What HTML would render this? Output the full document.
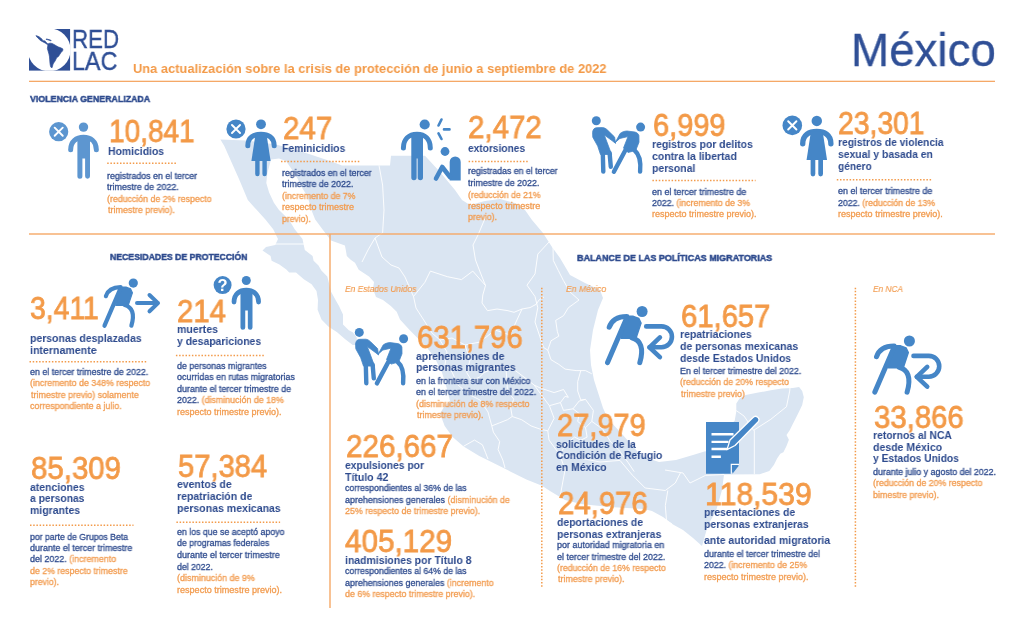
<!DOCTYPE html>
<html><head><meta charset="utf-8"><style>
html,body{margin:0;padding:0;background:#fff;}
body{width:1024px;height:637px;position:relative;overflow:hidden;font-family:"Liberation Sans",sans-serif;}
svg{position:absolute;left:0;top:0;}
.t{position:absolute;white-space:nowrap;transform-origin:0 0;will-change:transform;}
</style></head><body>
<svg width="1024" height="637" viewBox="0 0 1024 637">
<path d="M220.4,139.4 L246,140.5 L276,144.5 L300,151 L330,161 L342,165.4 L390,165.4 L391,155.8 L425,155.8 L440,172 L455,190 L462,200 L470,205 L485,201 L500,199 L515,203 L525,210 L532,220 L543,233 L552,247 L560,258 L570,275 L585,283 L600,290 L603,298 L598,310 L593,330 L590,350 L591,365 L594,380 L603,408 L608,419 L622,434 L637,451 L644,457 L659,462 L676,460 L693,455 L706,451 L722,432 L734.7,420.8 L736.3,411.4 L736.3,403.6 L739.4,398.8 L745.7,394.9 L758.3,392.6 L770.8,390.2 L781.8,388.6 L792.8,387.9 L799.1,387.1 L802.2,391 L803.8,397.3 L802.2,405.1 L799.1,411.4 L796,417.7 L792.8,424 L789.7,430.3 L786.5,435 L788.9,439.7 L786.5,446 L783.4,452.2 L780.3,453.8 L777.1,458.5 L774,464.8 L769.3,471.1 L759.8,474.2 L724,474.5 L722,490 L716,511 L708,525 L702,546 L693,538 L683,530 L673,524.5 L663,517 L652,511 L644,509 L610,507 L581,504 L565,500 L550,491 L542,485.8 L526.4,479.5 L510.7,471.7 L495,463.8 L479.3,456 L463.6,446.5 L452.6,437.1 L444.7,426.1 L440,413.6 L444,407 L450,400.7 L446.3,386.5 L442,372.4 L435,358.3 L426.5,347 L418,338.5 L409.6,330 L400,319.5 L396.7,311.7 L390.8,305.9 L383,300 L376,297 L373,289 L374,282 L369,276.6 L358.7,269.7 L355,262.7 L350.7,259.8 L346.8,255.9 L345.8,250 L344.9,245.5 L331,240.4 L323,230 L315.2,219.5 L311.3,209.8 L307.8,197.1 L302.1,187.7 L297.4,178.3 L292.7,170.7 L286,161 L279,158.5 L271,159.5 L267.3,173.6 L266.3,183 L269.1,192.4 L273.9,202.8 L279,210 L288.8,219.5 L294.7,229.3 L302.5,239 L304.8,250 L312.6,255.9 L313.6,260.7 L318.5,265.6 L321.4,270.5 L327.3,276.4 L331.2,292 L336,300.8 L339,305.9 L343,314.6 L343,324.4 L348.8,330.3 L352.7,332.2 L356.6,337.1 L357.5,345 L352.7,344.9 L344.9,339.1 L337.1,332.2 L328.3,326.4 L321.5,319.5 L317.6,309.8 L318,300 L316.5,291 L311.6,284.2 L303.8,279.3 L296,272.5 L289.2,272.5 L286.3,269.5 L279.4,264.6 L271.6,260.7 L270.6,255.9 L262.5,250.5 L266,247 L275.2,244.9 L278,239 L273.2,229.3 L265.4,219.5 L256.6,209.8 L247.8,200 L239,179 L229.2,157 L224.3,146 Z" fill="#dae5f2"/><polyline points="275,244 304,244" fill="none" stroke="#fff" stroke-width="0.9" stroke-linejoin="round"/><polyline points="379,165.4 382.6,185 384,210 382.6,232.8 375,238" fill="none" stroke="#fff" stroke-width="0.9" stroke-linejoin="round"/><polyline points="375,238 368,250 362,262" fill="none" stroke="#fff" stroke-width="0.9" stroke-linejoin="round"/><polyline points="375,238 382,257 391,265 399,268 405,277" fill="none" stroke="#fff" stroke-width="0.9" stroke-linejoin="round"/><polyline points="405,277 413.5,296.5 416,308 425,322 432,333 440,340" fill="none" stroke="#fff" stroke-width="0.9" stroke-linejoin="round"/><polyline points="413.5,296.5 424.8,282.4 430.4,271.1 447.4,276.7 461.5,279.6 472.8,271.1 485.5,285.5" fill="none" stroke="#fff" stroke-width="0.9" stroke-linejoin="round"/><polyline points="486,216 478,235 473,245 475.5,260 480.5,273 485.5,285.5" fill="none" stroke="#fff" stroke-width="0.9" stroke-linejoin="round"/><polyline points="485.5,285.5 482.8,295 482,303 487.5,310.7 497,309 508,310.7 514,312.3 522,309 530,307.6 536,304.4 539.3,299.7 544,297" fill="none" stroke="#fff" stroke-width="0.9" stroke-linejoin="round"/><polyline points="549,242 537.8,254.1 535,273.9 527,285.2 535,296.5 537.8,307.8 535,322" fill="none" stroke="#fff" stroke-width="0.9" stroke-linejoin="round"/><polyline points="553,246 553.3,260.4 558.3,270.5 563.4,280.5 570,292 579,300 568.3,307.8 563.5,315.7 555.7,320.4 557.3,331.4 558.8,336.1 551,340.8 547.8,350.2 551,359.7 558.8,364.4 565.1,369.1 576.1,370.6 585.5,370.6 591.8,373.8" fill="none" stroke="#fff" stroke-width="0.9" stroke-linejoin="round"/><polyline points="580.8,370.6 577.7,381.6 577.7,391 580.8,400 585.5,399.4" fill="none" stroke="#fff" stroke-width="0.9" stroke-linejoin="round"/><polyline points="440,340 452,338 465,345 480,342 495,330 510,335 522,309" fill="none" stroke="#fff" stroke-width="0.9" stroke-linejoin="round"/><polyline points="535,322 543.5,347.4 547.8,350.2" fill="none" stroke="#fff" stroke-width="0.9" stroke-linejoin="round"/><polyline points="440,340 447,352 445,365 452,372 458,385" fill="none" stroke="#fff" stroke-width="0.9" stroke-linejoin="round"/><polyline points="465,345 470,360 466.7,372.6 471.4,380.4 479.2,377.3 484,372.6 495,368 505.9,366.3 513.8,369.4 526.3,378.8 534.2,385.1 540,387.9 554.1,392.6 563.5,389.5 568.3,397.3" fill="none" stroke="#fff" stroke-width="0.9" stroke-linejoin="round"/><polyline points="491.8,425.9 499.7,422.8 507.5,419.7 512.2,416.5 521.6,419.7 531,425.9 540,429.1 547.8,430.8" fill="none" stroke="#fff" stroke-width="0.9" stroke-linejoin="round"/><polyline points="491.8,425.9 493.4,432.2 499.7,441.6 498.1,449.5 502.8,460 505,468" fill="none" stroke="#fff" stroke-width="0.9" stroke-linejoin="round"/><polyline points="458,385 470,395 480,400 488,412 491.8,425.9" fill="none" stroke="#fff" stroke-width="0.9" stroke-linejoin="round"/><polyline points="463.5,446.3 474.5,440.1 482.4,444.8 485.5,452.6 488,459" fill="none" stroke="#fff" stroke-width="0.9" stroke-linejoin="round"/><polyline points="512.2,416.5 510.6,407.1 513.8,399.2 507.5,391.4 505.9,366.3" fill="none" stroke="#fff" stroke-width="0.9" stroke-linejoin="round"/><polyline points="534.2,385.1 549.4,405.7 560.4,402.6 565.1,396.3 568.3,397.3" fill="none" stroke="#fff" stroke-width="0.9" stroke-linejoin="round"/><polyline points="549.4,405.7 554.1,418.3 547.8,430.8 549,440 560,455" fill="none" stroke="#fff" stroke-width="0.9" stroke-linejoin="round"/><polyline points="560.4,402.6 563.5,410.4 573,408.8 579.2,401 585.5,399.4" fill="none" stroke="#fff" stroke-width="0.9" stroke-linejoin="round"/><polyline points="573,408.8 579.2,413.5 577.7,421.4 585.5,427.7 591.8,421.4 593.4,410.4 585.5,399.4" fill="none" stroke="#fff" stroke-width="0.9" stroke-linejoin="round"/><polyline points="585.5,427.7 587.1,437.1 580.8,440.2 574.5,437.1 565,445 560,455 565,470 560,497" fill="none" stroke="#fff" stroke-width="0.9" stroke-linejoin="round"/><polyline points="591.8,421.4 602.8,429.2 610.6,441.8 618.5,449.7 627.9,462.2 634.2,471.6" fill="none" stroke="#fff" stroke-width="0.9" stroke-linejoin="round"/><polyline points="560,455 580,458 600,462 620,460.4" fill="none" stroke="#fff" stroke-width="0.9" stroke-linejoin="round"/><polyline points="620,460.4 632.6,475.4 645.2,488 665.3,490.5 675.3,483 680.4,472.9" fill="none" stroke="#fff" stroke-width="0.9" stroke-linejoin="round"/><polyline points="667.8,490.5 665.3,505.6 666.5,520.6 672,524" fill="none" stroke="#fff" stroke-width="0.9" stroke-linejoin="round"/><polyline points="665,470 683,473 690,483 705.5,475.4 724,474.5" fill="none" stroke="#fff" stroke-width="0.9" stroke-linejoin="round"/><polyline points="754.3,430.3 754.3,474.2" fill="none" stroke="#fff" stroke-width="0.9" stroke-linejoin="round"/><polyline points="736.3,410.6 744.1,416.1 753.6,430.3 770.8,419.3 786.5,406.7 789.7,391 790,387" fill="none" stroke="#fff" stroke-width="0.9" stroke-linejoin="round"/><polyline points="706,451 712,462 724,474.5" fill="none" stroke="#fff" stroke-width="0.9" stroke-linejoin="round"/><rect x="29" y="80.7" width="966" height="1.3" fill="#f5a867"/><rect x="29" y="233.3" width="966" height="1.4" fill="#f5a867"/><rect x="329.3" y="234" width="1.4" height="374" fill="#f5a867"/><line x1="541.8" y1="287.65" x2="541.8" y2="587.5" stroke="#f39b4b" stroke-width="1.5" stroke-dasharray="1.5 1.7"/><line x1="855.4" y1="287.65" x2="855.4" y2="587.5" stroke="#f39b4b" stroke-width="1.5" stroke-dasharray="1.5 1.7"/><clipPath id="sq"><rect x="29" y="29" width="41.3" height="41.8"/></clipPath><g clip-path="url(#sq)"><rect x="29" y="29" width="41.3" height="41.8" fill="#2f4f96"/><path d="M29,29 H49 V49.4 H29 Z" fill="#fff"/><circle cx="49.2" cy="49.9" r="21.45" fill="#fff"/></g><path d="M35.95,35.65 L37.30,36.02 L38.96,36.70 L40.69,37.91 L41.98,39.19 L42.73,40.47 L44.09,41.07 L44.99,40.77 L45.44,41.45 L46.35,42.43 L47.25,43.33 L48.00,44.09 L47.55,44.54 L46.50,43.94 L45.44,43.18 L44.09,42.43 L42.58,41.67 L40.92,40.77 L39.41,39.56 L38.06,38.21 L36.93,36.93 Z M48.00,44.09 L48.76,43.48 L50.27,43.18 L52.00,43.48 L54.03,44.46 L56.14,45.74 L58.40,46.95 L60.82,47.85 L62.93,48.98 L62.62,50.87 L60.82,52.75 L59.61,54.64 L58.40,56.52 L56.60,57.65 L55.84,59.53 L54.79,61.42 L53.58,63.08 L52.83,64.81 L52.38,66.69 L52.07,67.67 L50.87,67.15 L50.27,65.19 L49.96,62.93 L49.74,59.91 L49.51,56.90 L48.98,54.03 L48.16,51.24 L47.40,48.61 L47.70,46.20 Z M46.20,38.96 L47.85,39.26 L49.74,39.87 L51.24,40.47 L50.87,40.85 L49.36,40.32 L47.70,39.72 L46.20,39.41 Z" fill="#2f4f96" stroke="#2f4f96" stroke-width="0.7" stroke-linejoin="round"/><line x1="107.2" y1="163.3" x2="176.6" y2="163.3" stroke="#f39b4b" stroke-width="1.5" stroke-dasharray="1.5 1.7"/><line x1="281.0" y1="161.5" x2="360.3" y2="161.5" stroke="#f39b4b" stroke-width="1.5" stroke-dasharray="1.5 1.7"/><line x1="468.6" y1="161.4" x2="529.3" y2="161.4" stroke="#f39b4b" stroke-width="1.5" stroke-dasharray="1.5 1.7"/><line x1="652.4" y1="180.4" x2="755.6" y2="180.4" stroke="#f39b4b" stroke-width="1.5" stroke-dasharray="1.5 1.7"/><line x1="836.8" y1="179.8" x2="932.4" y2="179.8" stroke="#f39b4b" stroke-width="1.5" stroke-dasharray="1.5 1.7"/><line x1="29.5" y1="361.7" x2="146.3" y2="361.7" stroke="#f39b4b" stroke-width="1.5" stroke-dasharray="1.5 1.7"/><line x1="175.9" y1="355.4" x2="264.2" y2="355.4" stroke="#f39b4b" stroke-width="1.5" stroke-dasharray="1.5 1.7"/><line x1="30.0" y1="525.3" x2="133.5" y2="525.3" stroke="#f39b4b" stroke-width="1.5" stroke-dasharray="1.5 1.7"/><line x1="176.4" y1="522.2" x2="280.1" y2="522.2" stroke="#f39b4b" stroke-width="1.5" stroke-dasharray="1.5 1.7"/><circle cx="58.7" cy="131.7" r="9.6" fill="#5d96d0"/><path d="M54.668000000000006,127.66799999999999 L62.732,135.732 M62.732,127.66799999999999 L54.668000000000006,135.732" stroke="#fff" stroke-width="1.92" stroke-linecap="round"/><g transform="translate(83.5,127.1) scale(1.0)" fill="#5d96d0"><circle cx="0" cy="0" r="4.7"/><path d="M-12.85,22.6 C-12.85,14 -7,10.2 0,10.2 C7,10.2 12.85,14 12.85,22.6" fill="none" stroke="#5d96d0" stroke-width="5" stroke-linecap="round"/><path d="M-6.1,11 H6.5 V49.1 a2.45,2.45 0 0 1 -4.9,0 V31.3 H-1.1 V49.1 a2.5,2.5 0 0 1 -5,0 Z"/></g><circle cx="236" cy="129" r="9.6" fill="#4586c7"/><path d="M231.968,124.968 L240.032,133.032 M240.032,124.968 L231.968,133.032" stroke="#fff" stroke-width="1.92" stroke-linecap="round"/><g transform="translate(261,124.3) scale(1.0)" fill="#4586c7"><circle cx="0" cy="0" r="4.9"/><path d="M-13.2,21.4 C-13.2,13 -7,9.9 0,9.9 C7,9.9 13.2,13 13.2,21.4" fill="none" stroke="#4586c7" stroke-width="5" stroke-linecap="round"/><path d="M-5.5,10 H5.5 L9.6,36.6 H-9.6 Z"/><path d="M-5.8,36 H-1.4 V49.8 a2.2,2.2 0 0 1 -4.4,0 Z M1.4,36 H5.8 V49.8 a2.2,2.2 0 0 1 -4.4,0 Z"/></g><g fill="#4586c7"><circle cx="424.7" cy="124.5" r="5.1"/><path d="M403.4,148 C403.4,139 409,134.2 417,134.2 C425,134.2 430.3,139 430.3,148" fill="none" stroke="#4586c7" stroke-width="5" stroke-linecap="round"/><path d="M411.3,133 H423 V177.6 a2.65,2.65 0 0 1 -5.3,0 V158.4 H416.6 V177.6 a2.65,2.65 0 0 1 -5.3,0 Z"/><path d="M441.5,119.5 L438.5,125.5 M444,129.4 L449.5,129.4 M438.5,133.3 L441.5,139" stroke="#4586c7" stroke-width="2.6" stroke-linecap="round"/><circle cx="445" cy="151.5" r="4.4"/><path d="M449.7,180.5 V162 a5.5,5.5 0 0 1 11,0 V180.5 Z"/><path d="M436,178.5 L442.2,167 L450,177" fill="none" stroke="#4586c7" stroke-width="4.6" stroke-linecap="round" stroke-linejoin="round"/></g><g transform="translate(0,0)" fill="#4586c7" stroke="#4586c7" stroke-linecap="round" stroke-linejoin="round"><circle cx="596.3" cy="120.8" r="4.5" stroke="none"/><circle cx="640.6" cy="127.1" r="4.5" stroke="none"/><path d="M592.6,132 C593,129 594.5,127.8 597,127.7 L602.6,127.6 C604.5,127.8 606,128.6 607.5,130.1 L614.6,137 L615.6,143.4 L612,140.6 L604.3,135 L611.6,154.5 L600.5,154.5 L597.7,146.1 L592.9,137.4 Z" stroke-width="0.8"/><path d="M602.8,153 L603.3,171.6 M609.6,153 L610.8,166.8" fill="none" stroke-width="4.4"/><path d="M615.3,142.4 L620.1,133.5 C622,132 624,131.2 627,131 L634.8,132 C637,132.6 638.4,133.8 638.9,135.5 L639,142.2 L635.7,150.5 L628,152.5 L623.5,148 L628,136.6 L620.1,138.4 Z" stroke-width="0.8"/><path d="M625.5,150 L613.9,171.8 M634.5,150.2 Q641.6,156 640.1,171.6" fill="none" stroke-width="4.4"/></g><g transform="translate(-237,211.6)" fill="#4586c7" stroke="#4586c7" stroke-linecap="round" stroke-linejoin="round"><circle cx="596.3" cy="120.8" r="4.5" stroke="none"/><circle cx="640.6" cy="127.1" r="4.5" stroke="none"/><path d="M592.6,132 C593,129 594.5,127.8 597,127.7 L602.6,127.6 C604.5,127.8 606,128.6 607.5,130.1 L614.6,137 L615.6,143.4 L612,140.6 L604.3,135 L611.6,154.5 L600.5,154.5 L597.7,146.1 L592.9,137.4 Z" stroke-width="0.8"/><path d="M602.8,153 L603.3,171.6 M609.6,153 L610.8,166.8" fill="none" stroke-width="4.4"/><path d="M615.3,142.4 L620.1,133.5 C622,132 624,131.2 627,131 L634.8,132 C637,132.6 638.4,133.8 638.9,135.5 L639,142.2 L635.7,150.5 L628,152.5 L623.5,148 L628,136.6 L620.1,138.4 Z" stroke-width="0.8"/><path d="M625.5,150 L613.9,171.8 M634.5,150.2 Q641.6,156 640.1,171.6" fill="none" stroke-width="4.4"/></g><circle cx="792.3" cy="125.4" r="9.8" fill="#4586c7"/><path d="M788.184,121.284 L796.4159999999999,129.51600000000002 M796.4159999999999,121.284 L788.184,129.51600000000002" stroke="#fff" stroke-width="1.96" stroke-linecap="round"/><g transform="translate(816.8,120.9) scale(1.067)" fill="#4586c7"><circle cx="0" cy="0" r="4.9"/><path d="M-13.2,21.4 C-13.2,13 -7,9.9 0,9.9 C7,9.9 13.2,13 13.2,21.4" fill="none" stroke="#4586c7" stroke-width="5" stroke-linecap="round"/><path d="M-5.5,10 H5.5 L9.6,36.6 H-9.6 Z"/><path d="M-5.8,36 H-1.4 V49.8 a2.2,2.2 0 0 1 -4.4,0 Z M1.4,36 H5.8 V49.8 a2.2,2.2 0 0 1 -4.4,0 Z"/></g><g transform="translate(0,0) scale(1.0)" fill="#4586c7" stroke="#4586c7" stroke-linecap="round" stroke-linejoin="round"><circle cx="133.3" cy="283.1" r="4.6" stroke="none"/><path d="M105.9,296.2 C107.8,290.3 112.5,287.3 120.6,287.2" fill="none" stroke-width="4.2"/><path d="M119.5,287 L126,287.1 L130.6,288.9 L132.4,292.8 L128.2,305.4 L115.8,305.4 Z" stroke-width="1.2"/><path d="M120.2,289.2 L104.5,325.7 M124.8,305 C132,307 135,313.5 131.4,325.7" fill="none" stroke-width="4.2"/><path d="M137,303.1 L158,303.1 M149.5,295 L158,303.1 L149.5,311.3" fill="none" stroke-width="4"/></g><g transform="translate(482.14,-28.220000000000027) scale(1.2)" fill="#4586c7" stroke="#4586c7" stroke-linecap="round" stroke-linejoin="round"><circle cx="133.3" cy="283.1" r="4.6" stroke="none"/><path d="M105.9,296.2 C107.8,290.3 112.5,287.3 120.6,287.2" fill="none" stroke-width="4.2"/><path d="M119.5,287 L126,287.1 L130.6,288.9 L132.4,292.8 L128.2,305.4 L115.8,305.4 Z" stroke-width="1.2"/><path d="M120.2,289.2 L104.5,325.7 M124.8,305 C132,307 135,313.5 131.4,325.7" fill="none" stroke-width="4.2"/></g><g transform="translate(0.0,0.0)" fill="none" stroke="#4586c7" stroke-width="4.6" stroke-linecap="round" stroke-linejoin="round"><path d="M646.2,326.4 L661.5,326.4 A10.45,10.45 0 0 1 661.5,347.3 L649.5,347.3"/><path d="M659.9,337.4 L649.5,347.3 L659.9,357.1"/></g><g transform="translate(749.4399999999999,1.2799999999999727) scale(1.2)" fill="#4586c7" stroke="#4586c7" stroke-linecap="round" stroke-linejoin="round"><circle cx="133.3" cy="283.1" r="4.6" stroke="none"/><path d="M105.9,296.2 C107.8,290.3 112.5,287.3 120.6,287.2" fill="none" stroke-width="4.2"/><path d="M119.5,287 L126,287.1 L130.6,288.9 L132.4,292.8 L128.2,305.4 L115.8,305.4 Z" stroke-width="1.2"/><path d="M120.2,289.2 L104.5,325.7 M124.8,305 C132,307 135,313.5 131.4,325.7" fill="none" stroke-width="4.2"/></g><g transform="translate(267.29999999999995,29.5)" fill="none" stroke="#4586c7" stroke-width="4.6" stroke-linecap="round" stroke-linejoin="round"><path d="M646.2,326.4 L661.5,326.4 A10.45,10.45 0 0 1 661.5,347.3 L649.5,347.3"/><path d="M659.9,337.4 L649.5,347.3 L659.9,357.1"/></g><circle cx="222.6" cy="285.1" r="9" fill="#4586c7"/><g transform="translate(246.3,280.5) scale(0.955)" fill="#4586c7"><circle cx="0" cy="0" r="4.7"/><path d="M-12.85,22.6 C-12.85,14 -7,10.2 0,10.2 C7,10.2 12.85,14 12.85,22.6" fill="none" stroke="#4586c7" stroke-width="5" stroke-linecap="round"/><path d="M-6.1,11 H6.5 V49.1 a2.45,2.45 0 0 1 -4.9,0 V31.3 H-1.1 V49.1 a2.5,2.5 0 0 1 -5,0 Z"/></g><g><path d="M706,422.1 H739 V464.4 L731.3,473.7 H706 Z" fill="#4586c7"/><path d="M732.5,465.6 H739 L732.5,473.7 Z" fill="#4586c7"/><path d="M731.3,473.7 V464.4 H739" fill="none" stroke="#fff" stroke-width="1.2"/><path d="M711.5,434.2 H733.5 M711.5,441.9 H728.6 M711.5,449 H727 M711.5,456.7 H720.9" stroke="#fff" stroke-width="2.4"/><path d="M727,449.6 L730,440 L753,417.5 A3.3,3.3 0 0 1 758,422 L735,445.5 Z" fill="#4586c7" stroke="#fff" stroke-width="1.3" stroke-linejoin="round"/></g>
</svg>
<div class="t" style="left:72.16px;top:26.00px;font-size:26.7px;line-height:26.7px;color:#2f4f96;transform:scaleX(0.8364);-webkit-text-stroke:0.45px #2f4f96;">RED</div>
<div class="t" style="left:72.13px;top:48.00px;font-size:26.7px;line-height:26.7px;color:#2f4f96;transform:scaleX(0.8725);-webkit-text-stroke:0.45px #2f4f96;">LAC</div>
<div class="t" style="left:132.70px;top:62.00px;font-size:13.6px;line-height:13.6px;color:#f39a48;font-weight:700;transform:scaleX(0.9468);">Una actualización sobre la crisis de protección de junio a septiembre de 2022</div>
<div class="t" style="left:851.18px;top:26.00px;font-size:47px;line-height:47px;color:#2f4f96;transform:scaleX(0.9731);-webkit-text-stroke:0.3px #2f4f96;">México</div>
<div class="t" style="left:29.99px;top:94.00px;font-size:9.9px;line-height:9.9px;color:#2e4b8e;font-weight:700;transform:scaleX(0.8926);-webkit-text-stroke:0.5px #2e4b8e;">VIOLENCIA GENERALIZADA</div>
<div class="t" style="left:109.70px;top:252.00px;font-size:9.9px;line-height:9.9px;color:#2e4b8e;font-weight:700;transform:scaleX(0.879);-webkit-text-stroke:0.5px #2e4b8e;">NECESIDADES DE PROTECCIÓN</div>
<div class="t" style="left:577.20px;top:253.00px;font-size:9.9px;line-height:9.9px;color:#2e4b8e;font-weight:700;transform:scaleX(0.9093);-webkit-text-stroke:0.5px #2e4b8e;">BALANCE DE LAS POLÍTICAS MIGRATORIAS</div>
<div class="t" style="left:344.90px;top:285.00px;font-size:9.3px;line-height:9.3px;color:#f29c50;font-style:italic;transform:scaleX(0.9025);-webkit-text-stroke:0.15px #f29c50;">En Estados Unidos</div>
<div class="t" style="left:566.40px;top:285.00px;font-size:9.3px;line-height:9.3px;color:#f29c50;font-style:italic;transform:scaleX(0.9256);-webkit-text-stroke:0.15px #f29c50;">En México</div>
<div class="t" style="left:872.50px;top:285.00px;font-size:9.3px;line-height:9.3px;color:#f29c50;font-style:italic;transform:scaleX(0.8879);-webkit-text-stroke:0.15px #f29c50;">En NCA</div>
<div class="t" style="left:108.68px;top:116.00px;font-size:30.5px;line-height:30.5px;color:#f39a48;transform:scaleX(0.9187);-webkit-text-stroke:0.8px #f39a48;">10,841</div>
<div class="t" style="left:283.00px;top:113.00px;font-size:30.5px;line-height:30.5px;color:#f39a48;transform:scaleX(0.966);-webkit-text-stroke:0.8px #f39a48;">247</div>
<div class="t" style="left:468.40px;top:112.00px;font-size:30.5px;line-height:30.5px;color:#f39a48;transform:scaleX(0.9667);-webkit-text-stroke:0.8px #f39a48;">2,472</div>
<div class="t" style="left:653.40px;top:110.00px;font-size:30.5px;line-height:30.5px;color:#f39a48;transform:scaleX(0.9507);-webkit-text-stroke:0.8px #f39a48;">6,999</div>
<div class="t" style="left:838.40px;top:108.00px;font-size:30.5px;line-height:30.5px;color:#f39a48;transform:scaleX(0.9283);-webkit-text-stroke:0.8px #f39a48;">23,301</div>
<div class="t" style="left:30.40px;top:293.00px;font-size:30.5px;line-height:30.5px;color:#f39a48;transform:scaleX(0.9288);-webkit-text-stroke:0.8px #f39a48;">3,411</div>
<div class="t" style="left:177.00px;top:296.00px;font-size:30.5px;line-height:30.5px;color:#f39a48;transform:scaleX(0.9608);-webkit-text-stroke:0.8px #f39a48;">214</div>
<div class="t" style="left:31.10px;top:453.00px;font-size:30.5px;line-height:30.5px;color:#f39a48;transform:scaleX(0.9652);-webkit-text-stroke:0.8px #f39a48;">85,309</div>
<div class="t" style="left:178.40px;top:451.00px;font-size:30.5px;line-height:30.5px;color:#f39a48;transform:scaleX(0.9559);-webkit-text-stroke:0.8px #f39a48;">57,384</div>
<div class="t" style="left:417.30px;top:322.00px;font-size:30.5px;line-height:30.5px;color:#f39a48;transform:scaleX(0.9596);-webkit-text-stroke:0.8px #f39a48;">631,796</div>
<div class="t" style="left:346.10px;top:431.00px;font-size:30.5px;line-height:30.5px;color:#f39a48;transform:scaleX(0.9706);-webkit-text-stroke:0.8px #f39a48;">226,667</div>
<div class="t" style="left:345.30px;top:526.00px;font-size:30.5px;line-height:30.5px;color:#f39a48;transform:scaleX(0.9725);-webkit-text-stroke:0.8px #f39a48;">405,129</div>
<div class="t" style="left:681.10px;top:301.00px;font-size:30.5px;line-height:30.5px;color:#f39a48;transform:scaleX(0.9587);-webkit-text-stroke:0.8px #f39a48;">61,657</div>
<div class="t" style="left:557.30px;top:410.00px;font-size:30.5px;line-height:30.5px;color:#f39a48;transform:scaleX(0.9522);-webkit-text-stroke:0.8px #f39a48;">27,979</div>
<div class="t" style="left:557.60px;top:488.00px;font-size:30.5px;line-height:30.5px;color:#f39a48;transform:scaleX(0.962);-webkit-text-stroke:0.8px #f39a48;">24,976</div>
<div class="t" style="left:704.91px;top:479.00px;font-size:30.5px;line-height:30.5px;color:#f39a48;transform:scaleX(0.9887);-webkit-text-stroke:0.8px #f39a48;">118,539</div>
<div class="t" style="left:873.80px;top:402.00px;font-size:30.5px;line-height:30.5px;color:#f39a48;transform:scaleX(0.962);-webkit-text-stroke:0.8px #f39a48;">33,866</div>
<div class="t" style="left:107.70px;top:146.00px;font-size:11.3px;line-height:11.3px;color:#2e4b8e;font-weight:700;transform:scaleX(0.9213);">Homicidios</div>
<div class="t" style="left:107.40px;top:172.00px;font-size:9.0px;line-height:9.0px;color:#2e4b8e;transform:scaleX(0.9796);-webkit-text-stroke:0.3px #2e4b8e;">registrados en el tercer</div>
<div class="t" style="left:107.40px;top:183.00px;font-size:9.0px;line-height:9.0px;color:#2e4b8e;transform:scaleX(0.9904);-webkit-text-stroke:0.3px #2e4b8e;">trimestre de 2022.</div>
<div class="t" style="left:107.40px;top:195.00px;font-size:9.0px;line-height:9.0px;color:#f29c50;transform:scaleX(0.9766);-webkit-text-stroke:0.3px #f29c50;">(reducción de 2% respecto</div>
<div class="t" style="left:108.39px;top:206.00px;font-size:9.0px;line-height:9.0px;color:#f29c50;transform:scaleX(0.9912);-webkit-text-stroke:0.3px #f29c50;">trimestre previo).</div>
<div class="t" style="left:281.90px;top:143.00px;font-size:11.3px;line-height:11.3px;color:#2e4b8e;font-weight:700;transform:scaleX(0.9174);">Feminicidios</div>
<div class="t" style="left:281.90px;top:169.00px;font-size:9.0px;line-height:9.0px;color:#2e4b8e;transform:scaleX(0.9731);-webkit-text-stroke:0.3px #2e4b8e;">registrados en el tercer</div>
<div class="t" style="left:281.90px;top:180.00px;font-size:9.0px;line-height:9.0px;color:#2e4b8e;transform:scaleX(0.9836);-webkit-text-stroke:0.3px #2e4b8e;">trimestre de 2022.</div>
<div class="t" style="left:281.90px;top:192.00px;font-size:9.0px;line-height:9.0px;color:#f29c50;transform:scaleX(0.972);-webkit-text-stroke:0.3px #f29c50;">(incremento de 7%</div>
<div class="t" style="left:281.90px;top:203.00px;font-size:9.0px;line-height:9.0px;color:#f29c50;transform:scaleX(1.0014);-webkit-text-stroke:0.3px #f29c50;">respecto trimestre</div>
<div class="t" style="left:281.90px;top:215.00px;font-size:9.0px;line-height:9.0px;color:#f29c50;transform:scaleX(0.9567);-webkit-text-stroke:0.3px #f29c50;">previo).</div>
<div class="t" style="left:468.20px;top:143.00px;font-size:11.3px;line-height:11.3px;color:#2e4b8e;font-weight:700;transform:scaleX(0.9);">extorsiones</div>
<div class="t" style="left:468.20px;top:167.00px;font-size:9.0px;line-height:9.0px;color:#2e4b8e;transform:scaleX(0.9731);-webkit-text-stroke:0.3px #2e4b8e;">registradas en el tercer</div>
<div class="t" style="left:468.20px;top:179.00px;font-size:9.0px;line-height:9.0px;color:#2e4b8e;transform:scaleX(0.9836);-webkit-text-stroke:0.3px #2e4b8e;">trimestre de 2022.</div>
<div class="t" style="left:468.20px;top:191.00px;font-size:9.0px;line-height:9.0px;color:#f29c50;transform:scaleX(0.9667);-webkit-text-stroke:0.3px #f29c50;">(reducción de 21%</div>
<div class="t" style="left:468.20px;top:202.00px;font-size:9.0px;line-height:9.0px;color:#f29c50;transform:scaleX(1.0042);-webkit-text-stroke:0.3px #f29c50;">respecto trimestre</div>
<div class="t" style="left:468.20px;top:213.00px;font-size:9.0px;line-height:9.0px;color:#f29c50;transform:scaleX(0.9667);-webkit-text-stroke:0.3px #f29c50;">previo).</div>
<div class="t" style="left:652.00px;top:139.00px;font-size:11.3px;line-height:11.3px;color:#2e4b8e;font-weight:700;transform:scaleX(0.9229);">registros por delitos</div>
<div class="t" style="left:652.00px;top:151.00px;font-size:11.3px;line-height:11.3px;color:#2e4b8e;font-weight:700;transform:scaleX(0.9319);">contra la libertad</div>
<div class="t" style="left:652.00px;top:163.00px;font-size:11.3px;line-height:11.3px;color:#2e4b8e;font-weight:700;transform:scaleX(0.9191);">personal</div>
<div class="t" style="left:652.00px;top:188.00px;font-size:9.0px;line-height:9.0px;color:#2e4b8e;transform:scaleX(0.9926);-webkit-text-stroke:0.3px #2e4b8e;">en el tercer trimestre de</div>
<div class="t" style="left:652.00px;top:199.00px;font-size:9.0px;line-height:9.0px;color:#2e4b8e;transform:scaleX(0.975);-webkit-text-stroke:0.3px #2e4b8e;">2022. <span style="color:#f29c50;-webkit-text-stroke-color:#f29c50">(incremento de 3%</span></div>
<div class="t" style="left:652.00px;top:210.00px;font-size:9.0px;line-height:9.0px;color:#f29c50;-webkit-text-stroke:0.3px #f29c50;">respecto trimestre previo).</div>
<div class="t" style="left:837.80px;top:137.00px;font-size:11.3px;line-height:11.3px;color:#2e4b8e;font-weight:700;transform:scaleX(0.9094);">registros de violencia</div>
<div class="t" style="left:837.80px;top:149.00px;font-size:11.3px;line-height:11.3px;color:#2e4b8e;font-weight:700;transform:scaleX(0.9214);">sexual y basada en</div>
<div class="t" style="left:837.80px;top:161.00px;font-size:11.3px;line-height:11.3px;color:#2e4b8e;font-weight:700;transform:scaleX(0.8974);">género</div>
<div class="t" style="left:837.80px;top:187.00px;font-size:9.0px;line-height:9.0px;color:#2e4b8e;transform:scaleX(0.9926);-webkit-text-stroke:0.3px #2e4b8e;">en el tercer trimestre de</div>
<div class="t" style="left:837.80px;top:199.00px;font-size:9.0px;line-height:9.0px;color:#2e4b8e;transform:scaleX(0.971);-webkit-text-stroke:0.3px #2e4b8e;">2022. <span style="color:#f29c50;-webkit-text-stroke-color:#f29c50">(reducción de 13%</span></div>
<div class="t" style="left:837.80px;top:210.00px;font-size:9.0px;line-height:9.0px;color:#f29c50;transform:scaleX(1.0029);-webkit-text-stroke:0.3px #f29c50;">respecto trimestre previo).</div>
<div class="t" style="left:29.80px;top:333.00px;font-size:11.3px;line-height:11.3px;color:#2e4b8e;font-weight:700;transform:scaleX(0.9264);">personas desplazadas</div>
<div class="t" style="left:29.80px;top:345.00px;font-size:11.3px;line-height:11.3px;color:#2e4b8e;font-weight:700;transform:scaleX(0.938);">internamente</div>
<div class="t" style="left:29.80px;top:368.00px;font-size:9.0px;line-height:9.0px;color:#2e4b8e;transform:scaleX(0.9858);-webkit-text-stroke:0.3px #2e4b8e;">en el tercer trimestre de 2022.</div>
<div class="t" style="left:29.80px;top:379.00px;font-size:9.0px;line-height:9.0px;color:#f29c50;transform:scaleX(0.9803);-webkit-text-stroke:0.3px #f29c50;">(incremento de 348% respecto</div>
<div class="t" style="left:30.79px;top:391.00px;font-size:9.0px;line-height:9.0px;color:#f29c50;transform:scaleX(0.9882);-webkit-text-stroke:0.3px #f29c50;">trimestre previo) solamente</div>
<div class="t" style="left:29.80px;top:402.00px;font-size:9.0px;line-height:9.0px;color:#f29c50;transform:scaleX(0.9849);-webkit-text-stroke:0.3px #f29c50;">correspondiente a julio.</div>
<div class="t" style="left:176.50px;top:324.00px;font-size:11.3px;line-height:11.3px;color:#2e4b8e;font-weight:700;transform:scaleX(0.9318);">muertes</div>
<div class="t" style="left:176.50px;top:336.00px;font-size:11.3px;line-height:11.3px;color:#2e4b8e;font-weight:700;transform:scaleX(0.9174);">y desapariciones</div>
<div class="t" style="left:176.50px;top:362.00px;font-size:9.0px;line-height:9.0px;color:#2e4b8e;transform:scaleX(0.9793);-webkit-text-stroke:0.3px #2e4b8e;">de personas migrantes</div>
<div class="t" style="left:176.50px;top:373.00px;font-size:9.0px;line-height:9.0px;color:#2e4b8e;transform:scaleX(0.99);-webkit-text-stroke:0.3px #2e4b8e;">ocurridas en rutas migratorias</div>
<div class="t" style="left:176.50px;top:385.00px;font-size:9.0px;line-height:9.0px;color:#2e4b8e;transform:scaleX(0.9871);-webkit-text-stroke:0.3px #2e4b8e;">durante el tercer trimestre de</div>
<div class="t" style="left:176.50px;top:396.00px;font-size:9.0px;line-height:9.0px;color:#2e4b8e;transform:scaleX(0.9843);-webkit-text-stroke:0.3px #2e4b8e;">2022. <span style="color:#f29c50;-webkit-text-stroke-color:#f29c50">(disminución de 18%</span></div>
<div class="t" style="left:176.50px;top:408.00px;font-size:9.0px;line-height:9.0px;color:#f29c50;-webkit-text-stroke:0.3px #f29c50;">respecto trimestre previo).</div>
<div class="t" style="left:30.30px;top:482.00px;font-size:11.3px;line-height:11.3px;color:#2e4b8e;font-weight:700;transform:scaleX(0.9237);">atenciones</div>
<div class="t" style="left:30.30px;top:493.00px;font-size:11.3px;line-height:11.3px;color:#2e4b8e;font-weight:700;transform:scaleX(0.9133);">a personas</div>
<div class="t" style="left:30.30px;top:505.00px;font-size:11.3px;line-height:11.3px;color:#2e4b8e;font-weight:700;transform:scaleX(0.9278);">migrantes</div>
<div class="t" style="left:30.30px;top:533.00px;font-size:9.0px;line-height:9.0px;color:#2e4b8e;transform:scaleX(0.9657);-webkit-text-stroke:0.3px #2e4b8e;">por parte de Grupos Beta</div>
<div class="t" style="left:30.30px;top:544.00px;font-size:9.0px;line-height:9.0px;color:#2e4b8e;transform:scaleX(0.9932);-webkit-text-stroke:0.3px #2e4b8e;">durante el tercer trimestre</div>
<div class="t" style="left:30.30px;top:555.00px;font-size:9.0px;line-height:9.0px;color:#2e4b8e;transform:scaleX(0.9908);-webkit-text-stroke:0.3px #2e4b8e;">del 2022. <span style="color:#f29c50;-webkit-text-stroke-color:#f29c50">(incremento</span></div>
<div class="t" style="left:30.30px;top:567.00px;font-size:9.0px;line-height:9.0px;color:#f29c50;transform:scaleX(0.976);-webkit-text-stroke:0.3px #f29c50;">de 2% respecto trimestre</div>
<div class="t" style="left:30.30px;top:578.00px;font-size:9.0px;line-height:9.0px;color:#f29c50;transform:scaleX(0.9667);-webkit-text-stroke:0.3px #f29c50;">previo).</div>
<div class="t" style="left:176.70px;top:479.00px;font-size:11.3px;line-height:11.3px;color:#2e4b8e;font-weight:700;transform:scaleX(0.9271);">eventos de</div>
<div class="t" style="left:176.70px;top:491.00px;font-size:11.3px;line-height:11.3px;color:#2e4b8e;font-weight:700;transform:scaleX(0.9309);">repatriación de</div>
<div class="t" style="left:176.70px;top:503.00px;font-size:11.3px;line-height:11.3px;color:#2e4b8e;font-weight:700;transform:scaleX(0.9333);">personas mexicanas</div>
<div class="t" style="left:176.70px;top:528.00px;font-size:9.0px;line-height:9.0px;color:#2e4b8e;transform:scaleX(0.9764);-webkit-text-stroke:0.3px #2e4b8e;">en los que se aceptó apoyo</div>
<div class="t" style="left:176.70px;top:539.00px;font-size:9.0px;line-height:9.0px;color:#2e4b8e;transform:scaleX(0.9719);-webkit-text-stroke:0.3px #2e4b8e;">de programas federales</div>
<div class="t" style="left:176.70px;top:551.00px;font-size:9.0px;line-height:9.0px;color:#2e4b8e;transform:scaleX(0.9971);-webkit-text-stroke:0.3px #2e4b8e;">durante el tercer trimestre</div>
<div class="t" style="left:176.70px;top:563.00px;font-size:9.0px;line-height:9.0px;color:#2e4b8e;transform:scaleX(0.9676);-webkit-text-stroke:0.3px #2e4b8e;">del 2022.</div>
<div class="t" style="left:176.70px;top:574.00px;font-size:9.0px;line-height:9.0px;color:#f29c50;transform:scaleX(0.991);-webkit-text-stroke:0.3px #f29c50;">(disminución de 9%</div>
<div class="t" style="left:176.70px;top:586.00px;font-size:9.0px;line-height:9.0px;color:#f29c50;transform:scaleX(1.0058);-webkit-text-stroke:0.3px #f29c50;">respecto trimestre previo).</div>
<div class="t" style="left:416.20px;top:351.00px;font-size:11.3px;line-height:11.3px;color:#2e4b8e;font-weight:700;transform:scaleX(0.9208);">aprehensiones de</div>
<div class="t" style="left:416.20px;top:362.00px;font-size:11.3px;line-height:11.3px;color:#2e4b8e;font-weight:700;transform:scaleX(0.929);">personas migrantes</div>
<div class="t" style="left:416.20px;top:377.00px;font-size:9.0px;line-height:9.0px;color:#2e4b8e;transform:scaleX(0.9862);-webkit-text-stroke:0.3px #2e4b8e;">en la frontera sur con México</div>
<div class="t" style="left:416.20px;top:388.00px;font-size:9.0px;line-height:9.0px;color:#2e4b8e;transform:scaleX(0.9861);-webkit-text-stroke:0.3px #2e4b8e;">en el tercer trimestre del 2022.</div>
<div class="t" style="left:416.20px;top:400.00px;font-size:9.0px;line-height:9.0px;color:#f29c50;transform:scaleX(0.9826);-webkit-text-stroke:0.3px #f29c50;">(disminución de 8% respecto</div>
<div class="t" style="left:417.18px;top:411.00px;font-size:9.0px;line-height:9.0px;color:#f29c50;transform:scaleX(0.9838);-webkit-text-stroke:0.3px #f29c50;">trimestre previo).</div>
<div class="t" style="left:345.40px;top:460.00px;font-size:11.3px;line-height:11.3px;color:#2e4b8e;font-weight:700;transform:scaleX(0.9115);">expulsiones por</div>
<div class="t" style="left:345.40px;top:472.00px;font-size:11.3px;line-height:11.3px;color:#2e4b8e;font-weight:700;transform:scaleX(0.9319);">Título 42</div>
<div class="t" style="left:345.40px;top:484.00px;font-size:9.0px;line-height:9.0px;color:#2e4b8e;transform:scaleX(0.969);-webkit-text-stroke:0.3px #2e4b8e;">correspondientes al 36% de las</div>
<div class="t" style="left:345.40px;top:496.00px;font-size:9.0px;line-height:9.0px;color:#2e4b8e;transform:scaleX(0.9898);-webkit-text-stroke:0.3px #2e4b8e;">aprehensiones generales <span style="color:#f29c50;-webkit-text-stroke-color:#f29c50">(disminución de</span></div>
<div class="t" style="left:345.40px;top:507.00px;font-size:9.0px;line-height:9.0px;color:#f29c50;transform:scaleX(0.9825);-webkit-text-stroke:0.3px #f29c50;">25% respecto de trimestre previo).</div>
<div class="t" style="left:345.40px;top:555.00px;font-size:11.3px;line-height:11.3px;color:#2e4b8e;font-weight:700;transform:scaleX(0.9248);">inadmisiones por Título 8</div>
<div class="t" style="left:345.40px;top:567.00px;font-size:9.0px;line-height:9.0px;color:#2e4b8e;transform:scaleX(0.9683);-webkit-text-stroke:0.3px #2e4b8e;">correspondientes al 64% de las</div>
<div class="t" style="left:345.40px;top:579.00px;font-size:9.0px;line-height:9.0px;color:#2e4b8e;transform:scaleX(0.9841);-webkit-text-stroke:0.3px #2e4b8e;">aprehensiones generales <span style="color:#f29c50;-webkit-text-stroke-color:#f29c50">(incremento</span></div>
<div class="t" style="left:345.40px;top:590.00px;font-size:9.0px;line-height:9.0px;color:#f29c50;transform:scaleX(0.9818);-webkit-text-stroke:0.3px #f29c50;">de 6% respecto trimestre previo).</div>
<div class="t" style="left:679.80px;top:329.00px;font-size:11.3px;line-height:11.3px;color:#2e4b8e;font-weight:700;transform:scaleX(0.9273);">repatriaciones</div>
<div class="t" style="left:679.80px;top:341.00px;font-size:11.3px;line-height:11.3px;color:#2e4b8e;font-weight:700;transform:scaleX(0.9266);">de personas mexicanas</div>
<div class="t" style="left:679.80px;top:353.00px;font-size:11.3px;line-height:11.3px;color:#2e4b8e;font-weight:700;transform:scaleX(0.9174);">desde Estados Unidos</div>
<div class="t" style="left:679.80px;top:367.00px;font-size:9.0px;line-height:9.0px;color:#2e4b8e;transform:scaleX(0.9862);-webkit-text-stroke:0.3px #2e4b8e;">En el tercer trimestre del 2022.</div>
<div class="t" style="left:679.80px;top:378.00px;font-size:9.0px;line-height:9.0px;color:#f29c50;transform:scaleX(0.9732);-webkit-text-stroke:0.3px #f29c50;">(reducción de 20% respecto</div>
<div class="t" style="left:680.78px;top:390.00px;font-size:9.0px;line-height:9.0px;color:#f29c50;transform:scaleX(0.9818);-webkit-text-stroke:0.3px #f29c50;">trimestre previo)</div>
<div class="t" style="left:556.10px;top:439.00px;font-size:11.3px;line-height:11.3px;color:#2e4b8e;font-weight:700;transform:scaleX(0.909);">solicitudes de la</div>
<div class="t" style="left:556.10px;top:450.00px;font-size:11.3px;line-height:11.3px;color:#2e4b8e;font-weight:700;transform:scaleX(0.9111);">Condición de Refugio</div>
<div class="t" style="left:556.10px;top:462.00px;font-size:11.3px;line-height:11.3px;color:#2e4b8e;font-weight:700;transform:scaleX(0.9255);">en México</div>
<div class="t" style="left:556.80px;top:517.00px;font-size:11.3px;line-height:11.3px;color:#2e4b8e;font-weight:700;transform:scaleX(0.9202);">deportaciones de</div>
<div class="t" style="left:556.80px;top:529.00px;font-size:11.3px;line-height:11.3px;color:#2e4b8e;font-weight:700;transform:scaleX(0.9175);">personas extranjeras</div>
<div class="t" style="left:556.80px;top:541.00px;font-size:9.0px;line-height:9.0px;color:#2e4b8e;transform:scaleX(0.9935);-webkit-text-stroke:0.3px #2e4b8e;">por autoridad migratoria en</div>
<div class="t" style="left:556.80px;top:553.00px;font-size:9.0px;line-height:9.0px;color:#2e4b8e;transform:scaleX(0.9882);-webkit-text-stroke:0.3px #2e4b8e;">el tercer trimestre del 2022.</div>
<div class="t" style="left:556.80px;top:564.00px;font-size:9.0px;line-height:9.0px;color:#f29c50;transform:scaleX(0.9705);-webkit-text-stroke:0.3px #f29c50;">(reducción de 16% respecto</div>
<div class="t" style="left:557.79px;top:575.00px;font-size:9.0px;line-height:9.0px;color:#f29c50;transform:scaleX(0.9853);-webkit-text-stroke:0.3px #f29c50;">trimestre previo).</div>
<div class="t" style="left:703.80px;top:507.00px;font-size:11.3px;line-height:11.3px;color:#2e4b8e;font-weight:700;transform:scaleX(0.919);">presentaciones de</div>
<div class="t" style="left:703.80px;top:519.00px;font-size:11.3px;line-height:11.3px;color:#2e4b8e;font-weight:700;transform:scaleX(0.9202);">personas extranjeras</div>
<div class="t" style="left:703.80px;top:535.00px;font-size:11.3px;line-height:11.3px;color:#2e4b8e;font-weight:700;transform:scaleX(0.9255);">ante autoridad migratoria</div>
<div class="t" style="left:703.80px;top:550.00px;font-size:9.0px;line-height:9.0px;color:#2e4b8e;transform:scaleX(0.9873);-webkit-text-stroke:0.3px #2e4b8e;">durante el tercer trimestre del</div>
<div class="t" style="left:703.80px;top:561.00px;font-size:9.0px;line-height:9.0px;color:#2e4b8e;transform:scaleX(0.9771);-webkit-text-stroke:0.3px #2e4b8e;">2022. <span style="color:#f29c50;-webkit-text-stroke-color:#f29c50">(incremento de 25%</span></div>
<div class="t" style="left:703.80px;top:573.00px;font-size:9.0px;line-height:9.0px;color:#f29c50;transform:scaleX(0.999);-webkit-text-stroke:0.3px #f29c50;">respecto trimestre previo).</div>
<div class="t" style="left:872.80px;top:430.00px;font-size:11.3px;line-height:11.3px;color:#2e4b8e;font-weight:700;transform:scaleX(0.9174);">retornos al NCA</div>
<div class="t" style="left:872.80px;top:442.00px;font-size:11.3px;line-height:11.3px;color:#2e4b8e;font-weight:700;transform:scaleX(0.9324);">desde México</div>
<div class="t" style="left:872.80px;top:453.00px;font-size:11.3px;line-height:11.3px;color:#2e4b8e;font-weight:700;transform:scaleX(0.9063);">y Estados Unidos</div>
<div class="t" style="left:872.80px;top:468.00px;font-size:9.0px;line-height:9.0px;color:#2e4b8e;transform:scaleX(0.984);-webkit-text-stroke:0.3px #2e4b8e;">durante julio y agosto del 2022.</div>
<div class="t" style="left:872.80px;top:479.00px;font-size:9.0px;line-height:9.0px;color:#f29c50;transform:scaleX(0.9768);-webkit-text-stroke:0.3px #f29c50;">(reducción de 20% respecto</div>
<div class="t" style="left:872.80px;top:491.00px;font-size:9.0px;line-height:9.0px;color:#f29c50;transform:scaleX(0.9851);-webkit-text-stroke:0.3px #f29c50;">bimestre previo).</div>
<div class="t" style="left:215.1px;top:277.4px;width:15px;text-align:center;font-size:16.5px;line-height:16.5px;font-weight:700;color:#fff">?</div>
</body></html>
